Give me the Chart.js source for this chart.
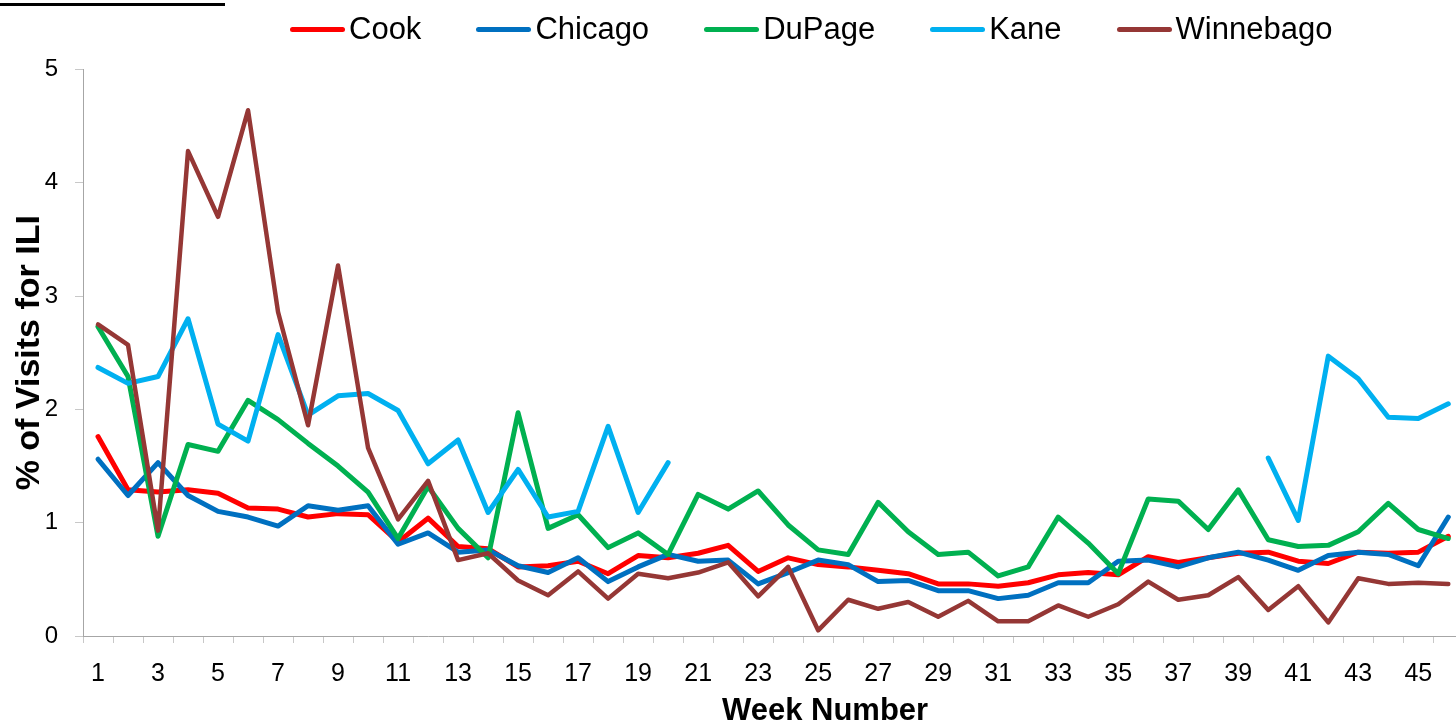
<!DOCTYPE html>
<html>
<head>
<meta charset="utf-8">
<title>% of Visits for ILI by Week</title>
<script src="https://cdn.jsdelivr.net/npm/chart.js@4.4.1/dist/chart.umd.min.js"></script>
<style>
  html, body { margin: 0; padding: 0; background: #fff; }
  body { width: 1456px; height: 721px; overflow: hidden; position: relative; font-family: 'Liberation Sans', Arial, sans-serif; }
  #wrap { position: absolute; left: 0; top: 0; width: 1470px; height: 721px; }
  #topRule { position: absolute; left: 0; top: 3px; width: 225px; height: 3px; background: #000; }
  #legend { position: absolute; left: 290px; top: 11px; display: flex; align-items: center; gap: 55px; font-size: 31px; line-height: 36px; color: #000; white-space: nowrap; }
  #legend .item { display: flex; align-items: center; }
  #legend .swatch { width: 55px; height: 5px; border-radius: 3px; margin-right: 4px; }
  #xTitle { position: absolute; left: 722px; top: 694px; font-size: 31px; line-height: 31px; font-weight: bold; color: #000; white-space: nowrap; }
</style>
</head>
<body>
<div id="topRule"></div>
<div id="wrap"><canvas id="chart" width="1470" height="721"></canvas></div>
<div id="legend"></div>
<div id="xTitle">Week Number</div>
<script>
const weeks = ['1','2','3','4','5','6','7','8','9','10','11','12','13','14','15','16','17','18','19','20',
  '21','22','23','24','25','26','27','28','29','30','31','32','33','34','35','36','37','38','39','40',
  '41','42','43','44','45','46'];

const cook = [1.76,1.29,1.27,1.29,1.26,1.13,1.12,1.05,1.08,1.07,
  0.83,1.04,0.79,0.77,0.61,0.62,0.66,0.55,0.71,0.69,
  0.73,0.80,0.57,0.69,0.63,0.61,0.58,0.55,0.46,0.46,
  0.44,0.47,0.54,0.56,0.54,0.70,0.65,0.69,0.73,0.74,
  0.66,0.64,0.74,0.73,0.74,0.88];

const chicago = [1.56,1.24,1.53,1.24,1.10,1.05,0.97,1.15,1.11,1.15,
  0.81,0.91,0.74,0.76,0.62,0.56,0.69,0.48,0.61,0.72,
  0.66,0.67,0.46,0.56,0.67,0.63,0.48,0.49,0.40,0.40,
  0.33,0.36,0.47,0.47,0.66,0.67,0.61,0.69,0.74,0.67,
  0.58,0.71,0.74,0.72,0.62,1.05];

const dupage = [2.73,2.29,0.88,1.69,1.63,2.08,1.91,1.70,1.50,1.27,
  0.86,1.32,0.95,0.69,1.97,0.95,1.07,0.78,0.91,0.72,
  1.25,1.12,1.28,0.98,0.76,0.72,1.18,0.92,0.72,0.74,
  0.53,0.61,1.05,0.82,0.55,1.21,1.19,0.94,1.29,0.85,
  0.79,0.80,0.92,1.17,0.94,0.86];

// Kane has no reports for weeks 21-39
const kane = [2.37,2.23,2.29,2.80,1.87,1.72,2.66,1.95,2.12,2.14,
  1.99,1.52,1.73,1.09,1.47,1.05,1.10,1.85,1.09,1.53,
  null,null,null,null,null,null,null,null,null,null,
  null,null,null,null,null,null,null,null,null,1.57,
  1.02,2.47,2.27,1.93,1.92,2.05];

const winnebago = [2.75,2.57,0.93,4.28,3.70,4.64,2.86,1.86,3.27,1.66,
  1.03,1.37,0.67,0.73,0.49,0.36,0.57,0.33,0.55,0.51,
  0.56,0.65,0.35,0.61,0.05,0.32,0.24,0.30,0.17,0.31,
  0.13,0.13,0.27,0.17,0.28,0.48,0.32,0.36,0.52,0.23,
  0.44,0.12,0.51,0.46,0.47,0.46];

const seriesNames = ['Cook', 'Chicago', 'DuPage', 'Kane', 'Winnebago'];
const seriesData = [cook, chicago, dupage, kane, winnebago];
const seriesColors = ['#ff0000', '#0070c0', '#00b050', '#00b0f0', '#953735'];
const yTicks = [0, 1, 2, 3, 4, 5];

const fontFamily = "'Liberation Sans', Arial, sans-serif";
Chart.defaults.font.family = fontFamily;
Chart.defaults.color = '#000';

// html legend, same order as the series
const legendEl = document.getElementById('legend');
seriesNames.forEach((name, i) => {
  const item = document.createElement('div');
  item.className = 'item';
  item.innerHTML = `<span class="swatch" style="background:${seriesColors[i]}"></span><span>${name}</span>`;
  legendEl.appendChild(item);
});

const datasets = seriesNames.map((name, i) => ({
  label: name,
  data: seriesData[i],
  borderColor: seriesColors[i],
  backgroundColor: seriesColors[i],
  borderWidth: i === 4 ? 4.5 : 5,
  borderCapStyle: 'round',
  borderJoinStyle: 'round',
  pointRadius: 0,
  pointHoverRadius: 0,
  tension: 0,
  fill: false,
  spanGaps: false,
  order: seriesNames.length - i, // later series drawn on top
}));

new Chart(document.getElementById('chart').getContext('2d'), {
  type: 'line',
  data: { labels: weeks, datasets },
  options: {
    responsive: false,
    animation: false,
    devicePixelRatio: 1,
    layout: { padding: { top: 69.5, right: 6.7, bottom: 0, left: 0 } },
    plugins: {
      legend: { display: false },
      tooltip: { enabled: false },
    },
    scales: {
      x: {
        type: 'category',
        offset: true,
        afterFit: (scale) => { scale.height = 85; },
        grid: {
          display: true,
          offset: true,
          drawOnChartArea: false,
          drawTicks: true,
          tickLength: 7,
          color: '#c8c8c8',
        },
        border: { display: true, color: '#a6a6a6', width: 1 },
        ticks: {
          autoSkip: false,
          maxRotation: 0,
          minRotation: 0,
          padding: 16,
          font: { size: 25 },
          color: '#000',
          callback: (v, i) => (i % 2 === 0 ? weeks[i] : ''),
        },
      },
      y: {
        min: 0,
        max: 5,
        afterFit: (scale) => { scale.width = 83; },
        afterBuildTicks: (scale) => { scale.ticks = yTicks.map((v) => ({ value: v })); },
        grid: {
          display: true,
          drawOnChartArea: false,
          drawTicks: true,
          tickLength: 8,
          color: '#c8c8c8',
        },
        border: { display: true, color: '#a6a6a6', width: 1 },
        ticks: {
          padding: 17,
          font: { size: 24 },
          color: '#000',
        },
        title: {
          display: true,
          text: '% of Visits for ILI',
          font: { size: 34, weight: 'bold' },
          color: '#000',
          padding: { top: 9, bottom: 0 },
        },
      },
    },
  },
});
</script>
</body>
</html>
